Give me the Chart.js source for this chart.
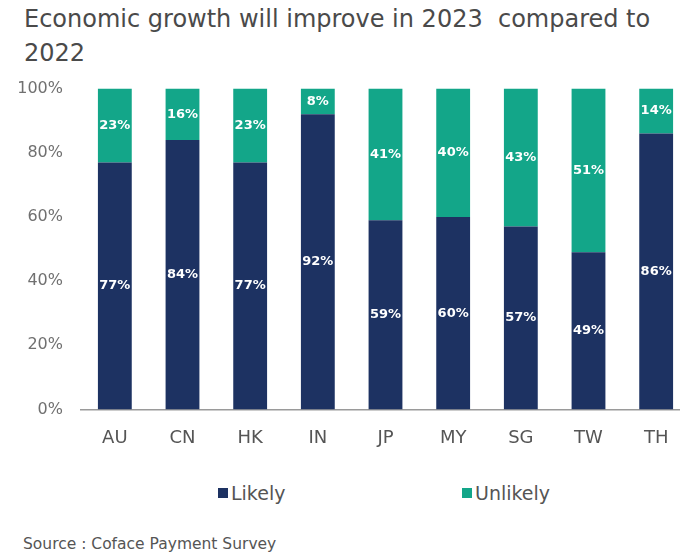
<!DOCTYPE html>
<html>
<head>
<meta charset="utf-8">
<script src="https://cdn.jsdelivr.net/npm/chart.js@4.4.0/dist/chart.umd.min.js"></script>
<style>
  html, body { margin: 0; padding: 0; background: #fff; overflow: hidden; }
  body { width: 680px; height: 558px; position: relative; font-family: "DejaVu Sans", sans-serif; }
  #title { position: absolute; left: 24px; top: 2px; width: 656px; font-size: 24px; line-height: 34px; color: #4a4a4a; }
  #legend { position: absolute; top: 481px; left: 0; width: 680px; height: 24px; font-size: 19px; color: #555; }
  #legend span { position: absolute; top: 0; line-height: 24px; }
  #legend i { display: inline-block; width: 10px; height: 10px; margin-right: 3px; vertical-align: 2px; }
  #source { position: absolute; left: 23px; top: 535px; font-size: 15.5px; color: #555; }
  #wrap { position: absolute; left: 0; top: 61px; width: 690px; height: 410px; }
</style>
</head>
<body>
<div id="title">Economic growth will improve in 2023&nbsp; compared to<br>2022</div>
<div id="wrap"><canvas id="myChart"></canvas></div>
<div id="legend"></div>
<div id="source">Source : Coface Payment Survey</div>
<script>
// categories and values
var countries = ["AU", "CN", "HK", "IN", "JP", "MY", "SG", "TW", "TH"];
var likely = [77, 84, 77, 92, 59, 60, 57, 49, 86];
var unlikely = [23, 16, 23, 8, 41, 40, 43, 51, 14];
var yTicks = [0, 20, 40, 60, 80, 100];

var navy = "#1d3262";
var teal = "#13a689";

// white % labels in the middle of each segment
var segLabels = {
  id: "segLabels",
  afterDatasetsDraw: function(chart) {
    var ctx = chart.ctx;
    ctx.save();
    ctx.fillStyle = "#fff";
    ctx.font = "bold 13px 'DejaVu Sans', sans-serif";
    ctx.textAlign = "center";
    ctx.textBaseline = "middle";
    chart.data.datasets.forEach(function(ds, i) {
      var meta = chart.getDatasetMeta(i);
      meta.data.forEach(function(bar, j) {
        var p = bar.getProps(["x", "y", "base"], true);
        ctx.fillText(ds.data[j] + "%", p.x, (p.y + p.base) / 2);
      });
    });
    ctx.restore();
  }
};

var myChart = new Chart(document.getElementById("myChart").getContext("2d"), {
  type: "bar",
  data: {
    labels: countries,
    datasets: [
      { label: "Likely", data: likely, backgroundColor: navy, barPercentage: 0.5, categoryPercentage: 1 },
      { label: "Unlikely", data: unlikely, backgroundColor: teal, barPercentage: 0.5, categoryPercentage: 1 }
    ]
  },
  options: {
    responsive: true,
    maintainAspectRatio: false,
    animation: false,
    layout: { padding: { top: 1, right: 0, left: 0, bottom: 4 } },
    plugins: {
      legend: { display: false },
      tooltip: { enabled: false }
    },
    scales: {
      x: {
        stacked: true,
        grid: { display: false, drawTicks: false },
        border: { display: true, color: "#9a9a9a", width: 1.5 },
        ticks: { color: "#555", padding: 18, font: { size: 18, family: "'DejaVu Sans', sans-serif" } }
      },
      y: {
        stacked: true,
        min: 0,
        max: 100,
        afterBuildTicks: function(scale) {
          scale.ticks = yTicks.map(function(v) { return { value: v }; });
        },
        afterFit: function(scale) { scale.width = 81; },
        grid: { display: false, drawTicks: false },
        border: { display: false },
        ticks: {
          color: "#707070",
          padding: 18,
          font: { size: 16, family: "'DejaVu Sans', sans-serif" },
          callback: function(v) { return v + "%"; }
        }
      }
    }
  },
  plugins: [segLabels]
});

// legend built from the datasets, placed under the chart like the original
var legendPos = [218, 462];
var legendEl = document.getElementById("legend");
myChart.data.datasets.forEach(function(ds, i) {
  var item = document.createElement("span");
  item.style.left = legendPos[i] + "px";
  item.innerHTML = '<i style="background:' + ds.backgroundColor + '"></i>' + ds.label;
  legendEl.appendChild(item);
});
</script>
</body>
</html>
